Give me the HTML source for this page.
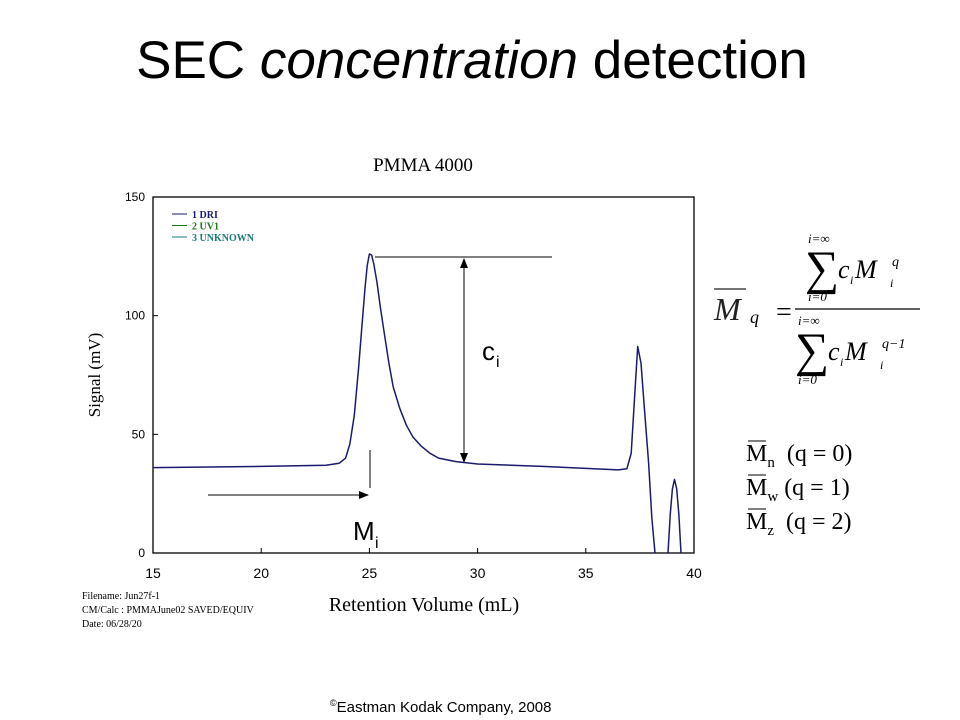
<!DOCTYPE html>
<html><head><meta charset="utf-8">
<style>
body{margin:0;background:#fff;}
#wrap{position:relative;width:960px;height:720px;overflow:hidden;background:#fff;}
.t{position:absolute;white-space:nowrap;}
</style></head>
<body>
<div id="wrap">
<div class="t" style="left:0;width:944px;text-align:center;top:30px;font:53px 'Liberation Sans',sans-serif;color:#000;">SEC <i>concentration</i> detection</div>
<svg id="chart" width="960" height="720" style="position:absolute;left:0;top:0"></svg>
<div class="t" style="left:330px;top:698px;font:15px 'Liberation Sans',sans-serif;"><sup style="font-size:9px">©</sup>Eastman Kodak Company, 2008</div>
</div>
<script>
const xTicks=[15,20,25,30,35,40];
const yTicks=[0,50,100,150];
const mainX=[15,20,23,23.6,23.9,24.1,24.3,24.5,24.65,24.8,24.9,25,25.1,25.2,25.35,25.5,25.7,25.9,26.1,26.4,26.7,27,27.4,27.8,28.2,29,30,33,36.5,36.9,37.1,37.25,37.4,37.55,37.7,37.9,38.05,38.2];
const mainY=[36,36.5,37,37.8,40,46,58,78,95,112,121,126,125.5,122,114,104,92,80,70,61,54,49,45,42,40,38.5,37.5,36.5,35,35.5,42,65,87,80,62,38,15,0];
const peak2X=[38.8,38.9,39,39.1,39.2,39.3,39.4];
const peak2Y=[0,16,27,31,27,16,0];
const legendLabels=["1 DRI","2 UV1","3 UNKNOWN"];
const legendColors=["#1a1a6e","#1a7a1a","#1a7a7a"];
const footerLines=["Filename: Jun27f-1","CM/Calc : PMMAJune02 SAVED/EQUIV","Date: 06/28/20"];

const NS="http://www.w3.org/2000/svg";
const svg=document.getElementById('chart');
const X0=153,X1=694,Y0=553,Y1=197;
const sx=v=>X0+(v-15)/(40-15)*(X1-X0);
const sy=v=>Y0-(v-0)/150*(Y0-Y1);
function mk(tag,attrs,txt){const e=document.createElementNS(NS,tag);for(const k in attrs)e.setAttribute(k,attrs[k]);if(txt!==undefined)e.textContent=txt;svg.appendChild(e);return e;}
const serif="'Liberation Serif',serif";

let e=mk('rect',{x:X0,y:Y1,width:X1-X0,height:Y0-Y1,fill:'none',stroke:'#000','stroke-width':1.3});

e=mk('text',{x:423,y:171,'text-anchor':'middle','font-family':serif,'font-size':19},'PMMA 4000');


xTicks.forEach(v=>{
  mk('line',{x1:sx(v),x2:sx(v),y1:Y0,y2:Y0-5,stroke:'#000'});
  e=mk('text',{x:sx(v),y:Y0+25,'text-anchor':'middle','font-family':"'Liberation Sans',sans-serif",'font-size':14},String(v));
  
});
yTicks.forEach(v=>{
  mk('line',{x1:X0,x2:X0+5,y1:sy(v),y2:sy(v),stroke:'#000'});
  e=mk('text',{x:X0-8,y:sy(v)+4,'text-anchor':'end','font-family':"'Liberation Sans',sans-serif",'font-size':12},String(v));
  
});
e=mk('text',{x:0,y:0,'text-anchor':'middle','font-family':serif,'font-size':17,transform:`translate(100,${(Y0+Y1)/2}) rotate(-90)`},'Signal (mV)');

e=mk('text',{x:424,y:611,'text-anchor':'middle','font-family':serif,'font-size':20},'Retention Volume (mL)');


legendLabels.forEach((l,i)=>{
  const y=214+i*11.5;
  mk('line',{x1:172,x2:187,y1:y,y2:y,stroke:legendColors[i]});
  e=mk('text',{x:192,y:y+4,'font-family':serif,'font-size':10,'font-weight':'bold',fill:legendColors[i]},l);
  
});

function path(xs,ys){return xs.map((v,i)=>(i?'L':'M')+sx(v).toFixed(1)+','+sy(ys[i]).toFixed(1)).join('');}
e=mk('path',{d:path(mainX,mainY),fill:'none',stroke:'#1a1a6e','stroke-width':1.5,'stroke-linejoin':'round'});

e=mk('path',{d:path(peak2X,peak2Y),fill:'none',stroke:'#1a1a6e','stroke-width':1.5,'stroke-linejoin':'round'});


// annotations
mk('defs',{}).innerHTML='<marker id="ah" markerWidth="10" markerHeight="8" refX="9" refY="4" orient="auto-start-reverse"><path d="M0,0L10,4L0,8z" fill="#000"/></marker>';
mk('line',{x1:375,x2:552,y1:257,y2:257,stroke:'#000'});
e=mk('line',{x1:464,x2:464,y1:259,y2:462,stroke:'#000','marker-start':'url(#ah)','marker-end':'url(#ah)'});

e=mk('line',{x1:208,x2:368,y1:495,y2:495,stroke:'#000','marker-end':'url(#ah)'});

mk('line',{x1:370,x2:370,y1:450,y2:488,stroke:'#000'});
e=mk('text',{x:482,y:360,'font-family':"'Liberation Sans',sans-serif",'font-size':26},'c');

mk('text',{x:496,y:367,'font-family':"'Liberation Sans',sans-serif",'font-size':16},'i');
e=mk('text',{x:353,y:540,'font-family':"'Liberation Sans',sans-serif",'font-size':26},'M');

mk('text',{x:375,y:548,'font-family':"'Liberation Sans',sans-serif",'font-size':16},'i');

footerLines.forEach((l,i)=>{
  e=mk('text',{x:82,y:599+i*14,'font-family':serif,'font-size':10},l);
  
});

// formula
const fs="'Liberation Serif',serif";
const F=[
 ['text',{x:714,y:320,'font-family':fs,'font-size':32,'font-style':'italic',fill:'#222'},'M'],
 ['line',{x1:714,x2:746,y1:289,y2:289,stroke:'#222','stroke-width':1.2}],
 ['text',{x:750,y:323,'font-family':fs,'font-size':18,'font-style':'italic'},'q'],
 ['text',{x:776,y:321,'font-family':fs,'font-size':28},'='],
 ['line',{x1:795,x2:920,y1:309,y2:309,stroke:'#000','stroke-width':1.2}],
 ['text',{x:808,y:243,'font-family':fs,'font-size':13,'font-style':'italic'},'i=∞'],
 ['text',{x:805,y:284,'font-family':fs,'font-size':48},'∑'],
 ['text',{x:838,y:278,'font-family':fs,'font-size':26,'font-style':'italic'},'c'],
 ['text',{x:850,y:284,'font-family':fs,'font-size':12,'font-style':'italic'},'i'],
 ['text',{x:855,y:278,'font-family':fs,'font-size':26,'font-style':'italic'},'M'],
 ['text',{x:892,y:266,'font-family':fs,'font-size':14,'font-style':'italic'},'q'],
 ['text',{x:890,y:287,'font-family':fs,'font-size':12,'font-style':'italic'},'i'],
 ['text',{x:808,y:301,'font-family':fs,'font-size':13,'font-style':'italic'},'i=0'],
 ['text',{x:798,y:325,'font-family':fs,'font-size':13,'font-style':'italic'},'i=∞'],
 ['text',{x:795,y:366,'font-family':fs,'font-size':48},'∑'],
 ['text',{x:828,y:360,'font-family':fs,'font-size':26,'font-style':'italic'},'c'],
 ['text',{x:840,y:366,'font-family':fs,'font-size':12,'font-style':'italic'},'i'],
 ['text',{x:845,y:360,'font-family':fs,'font-size':26,'font-style':'italic'},'M'],
 ['text',{x:882,y:348,'font-family':fs,'font-size':14,'font-style':'italic'},'q−1'],
 ['text',{x:880,y:369,'font-family':fs,'font-size':12,'font-style':'italic'},'i'],
 ['text',{x:798,y:384,'font-family':fs,'font-size':13,'font-style':'italic'},'i=0'],
];
F.forEach(f=>{e=mk(f[0],f[1],f[2]);});

const avgRows=[['n','  (q = 0)'],['w',' (q = 1)'],['z','  (q = 2)']];
avgRows.forEach((r,i)=>{
  const y=461+i*34;
  e=mk('text',{x:746,y:y,'font-family':fs,'font-size':24},'');
  
  e.innerHTML='M<tspan font-size="15" dy="6">'+r[0]+'</tspan><tspan dy="-6">'+r[1].replace(/ /g,'\u00a0')+'</tspan>';
  mk('line',{x1:748,x2:766,y1:y-20,y2:y-20,stroke:'#000','stroke-width':1});
});
</script>
</body></html>
